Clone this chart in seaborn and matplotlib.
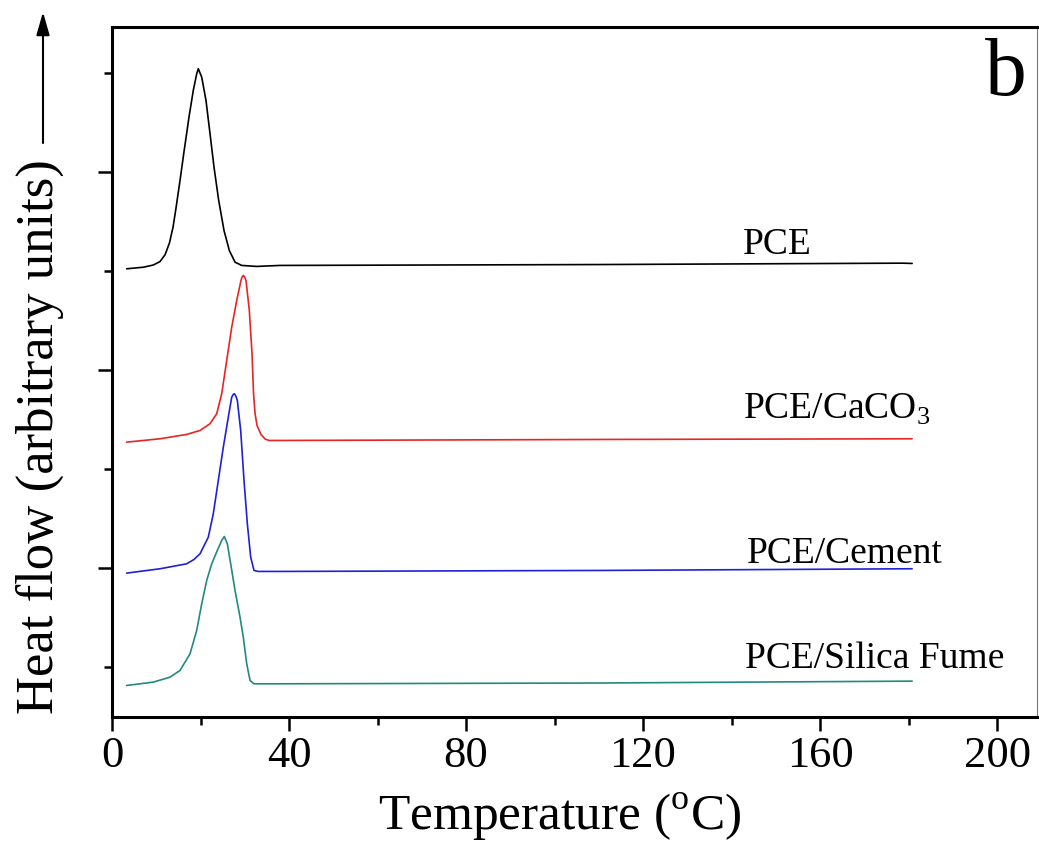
import matplotlib
matplotlib.use("Agg")
import matplotlib.pyplot as plt
import seaborn as sns
from matplotlib.ticker import MultipleLocator

# DSC heating curves (y in arbitrary units)
pce_x = [3.32, 7.07, 9.33, 10.85, 12.0, 13.0, 13.8, 14.46, 15.37, 16.27, 17.40, 18.37, 19.14, 19.50,
         20.27, 21.24, 22.15, 23.05, 24.11, 25.31, 26.51, 27.80, 29.31, 32.70, 37.97, 110.3, 178.6, 180.8]
pce_y = [5.027, 5.043, 5.065, 5.10, 5.17, 5.29, 5.45, 5.64, 5.92, 6.21, 6.56, 6.83, 6.997, 7.048,
         6.963, 6.727, 6.391, 6.054, 5.717, 5.414, 5.212, 5.094, 5.061, 5.051, 5.061, 5.07, 5.084, 5.081]

caco3_x = [3.32, 10.85, 16.88, 19.89, 22.15, 23.66, 24.79, 25.92, 27.05, 28.18, 29.15, 29.40, 29.67,
           29.95, 30.28, 31.03, 31.64, 31.98, 32.32, 32.77, 33.67, 34.58, 35.48, 37.97, 110.3, 180.8]
caco3_y = [3.276, 3.310, 3.354, 3.394, 3.462, 3.563, 3.765, 4.101, 4.437, 4.707, 4.909, 4.945, 4.960,
           4.945, 4.909, 4.606, 4.169, 3.768, 3.566, 3.444, 3.354, 3.308, 3.293, 3.293, 3.303, 3.310]

cement_x = [3.32, 10.85, 16.88, 18.5, 19.89, 21.76, 22.89, 24.02, 25.15, 26.28, 27.05, 27.35, 27.64,
            27.95, 28.32, 29.08, 29.83, 30.58, 31.34, 32.09, 33.06, 37.97, 110.3, 180.8]
cement_y = [1.953, 1.997, 2.047, 2.09, 2.148, 2.316, 2.553, 2.889, 3.225, 3.528, 3.730, 3.755, 3.765,
            3.745, 3.697, 3.394, 2.889, 2.452, 2.114, 1.980, 1.970, 1.970, 1.980, 1.997]

silica_x = [3.32, 9.33, 13.11, 15.37, 17.63, 19.14, 20.27, 21.40, 22.53, 23.80, 24.79, 25.38,
            26.06, 26.82, 27.80, 28.93, 29.67, 30.44, 31.19, 32.09, 37.97, 110.3, 180.8]
silica_y = [0.818, 0.852, 0.902, 0.970, 1.138, 1.374, 1.643, 1.879, 2.047, 2.182, 2.283, 2.323,
            2.249, 2.047, 1.778, 1.508, 1.306, 1.037, 0.869, 0.835, 0.835, 0.843, 0.862]

labels = ["PCE", r"PCE/CaCO$_\mathrm{3}$", "PCE/Cement", "PCE/Silica Fume"]
label_x = [142.6, 142.6, 143.5, 143.0]
label_y = [5.18, 3.515, 2.06, 0.99]
colors = ["black", "#e82424", "#2020d8", "#23897f"]

sns.set_style("ticks")
plt.rcParams['font.family'] = ['Liberation Serif', 'DejaVu Serif']
plt.rcParams['mathtext.fontset'] = 'custom'
plt.rcParams['mathtext.rm'] = 'Liberation Serif'
plt.rcParams['text.color'] = 'black'
plt.rcParams['axes.labelcolor'] = 'black'
plt.rcParams['xtick.color'] = 'black'
plt.rcParams['ytick.color'] = 'black'

fig = plt.figure(figsize=(10.39, 8.42), dpi=100)
ax = fig.add_axes([0.1078, 0.1485, 0.8902, 0.8195])

series = [(pce_x, pce_y), (caco3_x, caco3_y), (cement_x, cement_y), (silica_x, silica_y)]
for (xs, ys), c in zip(series, colors):
  sns.lineplot(x=xs, y=ys, color=c, linewidth=1.2, ax=ax, estimator=None, sort=False)

for lab, lx, ly in zip(labels, label_x, label_y):
  ax.text(lx, ly, lab, fontsize=27, ha='left', va='baseline', color='black')

ax.text(0.989, 0.901, 'b', transform=ax.transAxes, fontsize=60, ha='right', va='baseline', color='black')

ax.set_xlim(0, 209)
ax.set_ylim(0.5, 7.47)
ax.xaxis.set_major_locator(MultipleLocator(40))
ax.xaxis.set_minor_locator(MultipleLocator(20))
ax.yaxis.set_major_locator(MultipleLocator(2))
ax.yaxis.set_minor_locator(MultipleLocator(1))
ax.tick_params(which='major', direction='out', length=10, width=1.8, labelsize=32, pad=4,
               color='black', labelcolor='black')
ax.tick_params(which='minor', direction='out', length=6, width=1.8, color='black')
ax.tick_params(axis='y', labelleft=False)

for side in ['left', 'bottom', 'top']:
  ax.spines[side].set_linewidth(2.2)
  ax.spines[side].set_color('black')
ax.spines['right'].set_linewidth(0.8)
ax.spines['right'].set_color('#777777')

ax.set_xlabel(r"Temperature ($^\mathrm{o}$C)", fontsize=37, color='black')
ax.xaxis.label.set_va('baseline')
ax.xaxis.set_label_coords(0.484, -0.164)

ax.set_ylabel("Heat flow (arbitrary units)", fontsize=38, rotation=90, color='black')
ax.yaxis.label.set_va('center')
ax.yaxis.label.set_ha('center')
ax.yaxis.set_label_coords(-0.078, 0.407)

# arrow above the y label
ax.annotate('', xy=(43 / 1039, 1 - 12 / 842), xytext=(43 / 1039, 1 - 143 / 842),
            xycoords='figure fraction', textcoords='figure fraction',
            arrowprops=dict(arrowstyle='-|>,head_length=0.7,head_width=0.2',
                            color='black', lw=1.5, mutation_scale=20, shrinkA=0, shrinkB=0))

fig.savefig("out.png", dpi=100, facecolor='white')
